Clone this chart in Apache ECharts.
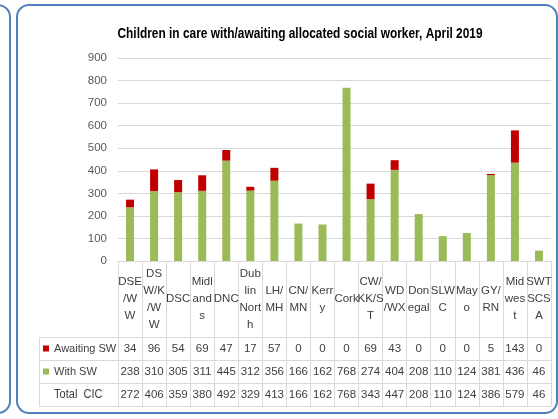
<!DOCTYPE html>
<html>
<head>
<meta charset="utf-8">
<script src="https://cdn.jsdelivr.net/npm/echarts@6/dist/echarts.min.js"></script>
<style>
    html, body { margin: 0; padding: 0; background: #fff; }
    #chart { width: 558px; height: 419px; }
</style>
</head>
<body>
<div id="chart"></div>
<script>
    // categories, wrapped the same way as the excel data table
    var areas = ['DSE\n/W\nW', 'DS\nW/K\n/W\nW', 'DSC', 'Midl\nand\ns', 'DNC', 'Dub\nlin\nNort\nh', 'LH/\nMH', 'CN/\nMN',
        'Kerr\ny', 'Cork', 'CW/\nKK/S\nT', 'WD\n/WX', 'Don\negal', 'SLW\nC', 'May\no', 'GY/\nRN', 'Mid\nwes\nt', 'SWT\nSCS\nA'];
    var awaitingSW = [34, 96, 54, 69, 47, 17, 57, 0, 0, 0, 69, 43, 0, 0, 0, 5, 143, 0];
    var withSW = [238, 310, 305, 311, 445, 312, 356, 166, 162, 768, 274, 404, 208, 110, 124, 381, 436, 46];
    var totalCIC = [272, 406, 359, 380, 492, 329, 413, 166, 162, 768, 343, 447, 208, 110, 124, 386, 579, 46];
    var yTicks = [0, 900, 100]; // min, max, step

    var font = "'Liberation Sans', Arial, sans-serif";
    var fs = 11.5;
    var lineCol = '#D9D9D9';
    var textCol = '#404040';

    // table layout (pixels)
    var gridL = 118, gridR = 551, gridTop = 58, axisY = 261;
    var rowLines = [337, 360, 383, 406];
    var labelBoxL = 39;

    function rowAxis(values, rowIdx) {
        var mid = (rowLines[rowIdx] + rowLines[rowIdx + 1]) / 2;
        return {
            type: 'category',
            data: values.map(String),
            position: 'bottom',
            offset: mid - axisY,
            axisLine: { show: false },
            axisTick: { show: false },
            axisLabel: {
                interval: 0, margin: 0, verticalAlign: 'middle',
                color: textCol, fontSize: fs, fontFamily: font
            }
        };
    }

    var chart = echarts.init(document.getElementById('chart'));

    var graphics = [
        // panel borders
        { type: 'rect', shape: { x: 17, y: 5, width: 540, height: 408, r: 12 },
          style: { fill: 'none', stroke: '#4F81BD', lineWidth: 2 } },
        { type: 'rect', shape: { x: -120, y: 5, width: 130, height: 408, r: 12 },
          style: { fill: 'none', stroke: '#4F81BD', lineWidth: 2 } },
        { type: 'text', x: 300, y: 34, scaleX: 0.85,
          style: { text: 'Children in care with/awaiting allocated social worker, April 2019',
                   fontFamily: font, fontSize: 14, fontWeight: 'bold', fill: '#000',
                   align: 'center', verticalAlign: 'middle' } },
        { type: 'line', shape: { x1: labelBoxL + 0.5, y1: rowLines[0], x2: labelBoxL + 0.5, y2: rowLines[3] },
          style: { stroke: lineCol, lineWidth: 1 } },
        { type: 'text', x: 54, y: (rowLines[2] + rowLines[3]) / 2, scaleX: 0.85,
          style: { text: 'Total  CIC', fontFamily: font, fontSize: 13, fill: textCol, verticalAlign: 'middle' } }
    ];
    rowLines.forEach(function (y) {
        graphics.push({ type: 'line', shape: { x1: labelBoxL, y1: y + 0.5, x2: gridR, y2: y + 0.5 },
            style: { stroke: lineCol, lineWidth: 1 } });
    });

    chart.setOption({
        animation: false,
        grid: { left: gridL, right: 558 - gridR, top: gridTop, bottom: 419 - axisY, containLabel: false },
        legend: {
            data: ['Awaiting SW', 'With SW'],
            orient: 'vertical',
            left: 43, top: rowLines[0] + 4.5,
            padding: 0,
            itemWidth: 6, itemHeight: 6, itemGap: 9,
            icon: 'rect',
            textStyle: { color: textCol, fontSize: 11, fontFamily: font, lineHeight: 14 }
        },
        xAxis: [
            {
                type: 'category',
                data: areas,
                axisLine: { show: true, lineStyle: { color: lineCol } },
                axisTick: { show: true, alignWithLabel: false, length: rowLines[3] - axisY, lineStyle: { color: lineCol } },
                axisLabel: {
                    interval: 0, margin: (rowLines[0] - axisY) / 2, verticalAlign: 'middle',
                    lineHeight: 17, color: textCol, fontSize: fs, fontFamily: font
                }
            },
            rowAxis(awaitingSW, 0),
            rowAxis(withSW, 1),
            rowAxis(totalCIC, 2)
        ],
        yAxis: {
            type: 'value',
            min: yTicks[0], max: yTicks[1], interval: yTicks[2],
            axisLine: { show: false },
            axisTick: { show: false },
            splitLine: { lineStyle: { color: lineCol } },
            axisLabel: { margin: 11, color: '#595959', fontSize: fs, fontFamily: font }
        },
        series: [
            {
                name: 'With SW', type: 'bar', stack: 'cic', barWidth: 8,
                itemStyle: { color: '#9BBB59' },
                data: withSW
            },
            {
                name: 'Awaiting SW', type: 'bar', stack: 'cic', barWidth: 8,
                itemStyle: { color: '#C00000' },
                data: awaitingSW
            }
        ],
        graphic: graphics
    });
</script>
</body>
</html>
